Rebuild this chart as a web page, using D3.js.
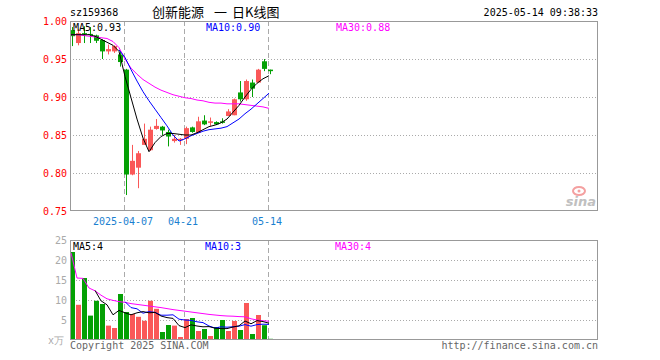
<!DOCTYPE html>
<html>
<head>
<meta charset="utf-8">
<script src="https://cdn.jsdelivr.net/npm/d3@7"></script>
<style>
  body { margin: 0; background: #fff; }
  svg text { font-family: "DejaVu Sans Mono", monospace; font-size: 10px; }
</style>
</head>
<body>
<svg id="chart" width="660" height="360"></svg>
<script>
// trading days shown on the chart
var dates = ['2025-03-24','2025-03-25','2025-03-26','2025-03-27','2025-03-28','2025-03-31',
  '2025-04-01','2025-04-02','2025-04-03','2025-04-07','2025-04-08','2025-04-09','2025-04-10',
  '2025-04-11','2025-04-14','2025-04-15','2025-04-16','2025-04-17','2025-04-18','2025-04-21',
  '2025-04-22','2025-04-23','2025-04-24','2025-04-25','2025-04-28','2025-04-29','2025-04-30',
  '2025-05-06','2025-05-07','2025-05-08','2025-05-09','2025-05-12','2025-05-13','2025-05-14'];

// OHLC
var opens  = [0.988,0.971,0.984,0.983,0.981,0.975,0.960,0.960,0.956,0.936,0.798,0.807,0.837,0.830,0.858,0.861,0.854,
              0.842,0.843,0.845,0.860,0.853,0.869,0.866,0.867,0.868,0.875,0.876,0.906,0.897,0.919,0.919,0.947,0.936];
var highs  = [0.992,0.989,0.993,0.992,0.982,0.976,0.969,0.968,0.960,0.937,0.837,0.829,0.865,0.861,0.871,0.862,0.857,
              0.850,0.846,0.861,0.861,0.874,0.876,0.873,0.868,0.872,0.884,0.898,0.921,0.923,0.923,0.937,0.950,0.936];
var lows   = [0.967,0.968,0.971,0.971,0.971,0.950,0.956,0.958,0.940,0.771,0.797,0.780,0.837,0.829,0.857,0.850,0.835,
              0.840,0.837,0.838,0.853,0.853,0.863,0.862,0.863,0.865,0.875,0.876,0.894,0.895,0.900,0.919,0.934,0.930];
var closes = [0.980,0.984,0.983,0.982,0.974,0.960,0.963,0.967,0.946,0.798,0.816,0.826,0.845,0.857,0.862,0.856,0.848,
              0.845,0.845,0.859,0.854,0.868,0.864,0.868,0.864,0.866,0.881,0.897,0.897,0.921,0.911,0.936,0.937,0.934];

// price moving averages (MA10 only drawn from day 8)
var ma5  = [0.982,0.982,0.982,0.982,0.980,0.976,0.972,0.968,0.960,0.927,0.899,0.871,0.846,0.828,0.840,0.848,0.852,
            0.852,0.851,0.850,0.850,0.853,0.857,0.861,0.863,0.866,0.871,0.880,0.889,0.900,0.910,0.918,0.924,0.928];
var ma10 = [null,null,null,null,null,null,null,null,0.962,0.952,0.936,0.921,0.907,0.895,0.884,0.873,0.862,
            0.850,0.842,0.845,0.849,0.852,0.855,0.857,0.858,0.859,0.861,0.866,0.871,0.878,0.884,0.891,0.898,0.905];
var ma30 = [0.982,0.982,0.981,0.980,0.979,0.978,0.977,0.973,0.965,0.950,0.938,0.930,0.923,0.918,0.913,0.909,0.906,
            0.903,0.901,0.899,0.898,0.896,0.895,0.893,0.892,0.892,0.891,0.891,0.891,0.890,0.889,0.888,0.887,0.885];

// volume (x万) and its averages
var volumes = [22.0,8.8,15.5,6.1,9.8,9.0,3.6,3.0,11.5,7.0,6.5,5.8,4.8,9.8,7.8,2.0,3.75,
               3.6,0.75,5.25,5.5,2.25,2.75,1.0,3.25,5.0,2.25,4.75,2.5,9.25,1.5,6.25,3.7,0.3];
var volMa5  = [null,null,null,null,12.4,9.8,8.8,6.3,7.4,6.8,6.3,6.8,7.1,6.8,6.9,6.0,5.6,
               5.4,3.6,3.1,3.8,3.5,3.3,3.35,2.95,2.85,2.85,3.25,3.55,4.75,4.05,4.85,4.6,4.2];
var volMa10 = [null,null,null,null,null,null,null,null,null,9.6,8.1,7.8,6.7,7.1,6.9,6.2,6.2,
               6.3,5.2,5.0,4.9,4.55,4.35,3.5,3.0,3.3,3.2,3.3,3.45,3.85,3.45,3.85,3.95,3.9];
var volMa30 = [21.8,15.5,15.4,13.0,12.3,11.2,10.3,9.9,9.6,9.4,9.1,8.9,8.7,8.5,8.3,8.1,7.85,
               7.6,7.4,7.2,7.0,6.8,6.6,6.4,6.25,6.1,6.0,5.95,5.85,5.8,5.3,5.0,4.8,4.7];

var priceTicks = [0.75,0.80,0.85,0.90,0.95,1.00];
var volTicks = [5,10,15,20,25];
var tickDates = ['2025-04-07','2025-04-21','2025-05-14'];
var tickLabels = ['2025-04-07','04-21','05-14'];

var RED = '#fa5858', GREEN = '#04a004', GRID = '#aaa', BORDER = '#999';

var svg = d3.select('#chart');
var x = d3.scaleLinear().domain([0, 88]).range([70, 598]);
var yPrice = d3.scaleLinear().domain([0.75, 1.00]).range([211, 21]);
var yVol = d3.scaleLinear().domain([0, 25]).range([340, 240]);

var idx = d3.range(dates.length);
function upDay(i) { return closes[i] >= opens[i]; }

// header - title pieces placed separately, the gaps are wide in the original
svg.append('text').attr('x', 70).attr('y', 16).text('sz159368');
var titleParts = [['创新能源', 152], ['一', 214], ['日K线图', 232]];
svg.append('g').selectAll('text').data(titleParts).enter().append('text')
  .attr('x', function(d) { return d[1]; }).attr('y', 17)
  .style('font-family', '"Noto Sans CJK SC"').style('font-size', '13px')
  .text(function(d) { return d[0]; });
svg.append('text').attr('x', 598).attr('y', 16).attr('text-anchor', 'end').text('2025-05-14 09:38:33');

// grids for both panels
function drawGrid(yScale, vals, top, bottom) {
  svg.append('g').selectAll('line').data(vals).enter().append('line')
    .attr('x1', 70).attr('x2', 598)
    .attr('y1', function(d) { return Math.round(yScale(d)) + 0.5; })
    .attr('y2', function(d) { return Math.round(yScale(d)) + 0.5; })
    .attr('stroke', GRID).attr('stroke-dasharray', '1,2');
  svg.append('g').selectAll('line').data(tickDates).enter().append('line')
    .attr('x1', function(d) { return x(dates.indexOf(d)) + 0.5; })
    .attr('x2', function(d) { return x(dates.indexOf(d)) + 0.5; })
    .attr('y1', top).attr('y2', bottom)
    .attr('stroke', GRID).attr('stroke-dasharray', '5,3');
}
drawGrid(yPrice, [0.80, 0.85, 0.90, 0.95], 21, 211);
drawGrid(yVol, [5, 10, 15, 20], 240, 340);

// axes (labels only)
var pAxis = svg.append('g').attr('transform', 'translate(70,0)')
  .call(d3.axisLeft(yPrice).tickValues(priceTicks).tickFormat(d3.format('.2f')).tickSize(0).tickPadding(3));
pAxis.select('.domain').remove();
pAxis.selectAll('text').attr('fill', '#f00').style('font-size', '10px').style('font-family', '"DejaVu Sans Mono"');

var vAxis = svg.append('g').attr('transform', 'translate(70,0)')
  .call(d3.axisLeft(yVol).tickValues(volTicks).tickSize(0).tickPadding(3));
vAxis.select('.domain').remove();
vAxis.selectAll('text').attr('fill', '#aaa').style('font-size', '10px').style('font-family', '"DejaVu Sans Mono"');
svg.append('text').attr('x', 64).attr('y', 344).attr('text-anchor', 'end').attr('fill', '#aaa').text('x万');

// date labels under the price panel
svg.append('g').selectAll('text').data(tickDates).enter().append('text')
  .attr('x', function(d) { return x(dates.indexOf(d)) - 1; })
  .attr('y', 225).attr('text-anchor', 'middle').attr('fill', '#1a7fd0')
  .text(function(d, i) { return tickLabels[i]; });

// candles
var candles = svg.append('g');
candles.selectAll('line').data(idx).enter().append('line')
  .attr('x1', function(i) { return x(i) + 2.5; })
  .attr('x2', function(i) { return x(i) + 2.5; })
  .attr('y1', function(i) { return yPrice(highs[i]); })
  .attr('y2', function(i) { return yPrice(lows[i]); })
  .attr('stroke', function(i) { return upDay(i) ? RED : GREEN; });
candles.selectAll('rect').data(idx).enter().append('rect')
  .attr('x', function(i) { return x(i); })
  .attr('width', 5)
  .attr('y', function(i) { return yPrice(Math.max(opens[i], closes[i])); })
  .attr('height', function(i) { return Math.max(1, Math.abs(yPrice(opens[i]) - yPrice(closes[i]))); })
  .attr('fill', function(i) { return upDay(i) ? RED : GREEN; });

// volume bars
svg.append('g').selectAll('rect').data(idx).enter().append('rect')
  .attr('x', function(i) { return x(i); })
  .attr('width', 5)
  .attr('y', function(i) { return yVol(volumes[i]); })
  .attr('height', function(i) { return 340 - yVol(volumes[i]); })
  .attr('fill', function(i) { return upDay(i) ? RED : GREEN; });

// moving average lines
function maLine(arr, yScale, color) {
  var line = d3.line()
    .defined(function(d) { return d != null; })
    .x(function(d, i) { return x(i) + 1; })
    .y(function(d) { return yScale(d); });
  svg.append('path').datum(arr).attr('d', line)
    .attr('fill', 'none').attr('stroke', color).attr('stroke-width', 1);
}
maLine(ma30, yPrice, '#f0f');
maLine(ma10, yPrice, '#00f');
maLine(ma5, yPrice, '#000');
maLine(volMa30, yVol, '#f0f');
maLine(volMa10, yVol, '#00f');
maLine(volMa5, yVol, '#000');

// panel borders
svg.append('rect').attr('x', 70.5).attr('y', 21.5).attr('width', 527).attr('height', 189)
  .attr('fill', 'none').attr('stroke', BORDER);
svg.append('rect').attr('x', 70.5).attr('y', 240.5).attr('width', 527).attr('height', 99)
  .attr('fill', 'none').attr('stroke', BORDER);

// MA legends
svg.append('text').attr('x', 73).attr('y', 31).attr('fill', '#000').text('MA5:0.93');
svg.append('text').attr('x', 206).attr('y', 31).attr('fill', '#00f').text('MA10:0.90');
svg.append('text').attr('x', 336).attr('y', 31).attr('fill', '#f0f').text('MA30:0.88');
svg.append('text').attr('x', 73).attr('y', 250).attr('fill', '#000').text('MA5:4');
svg.append('text').attr('x', 205).attr('y', 250).attr('fill', '#00f').text('MA10:3');
svg.append('text').attr('x', 335).attr('y', 250).attr('fill', '#f0f').text('MA30:4');

// footer
svg.append('text').attr('x', 70).attr('y', 349).attr('fill', '#666').text('Copyright 2025 SINA.COM');
svg.append('text').attr('x', 598).attr('y', 349).attr('text-anchor', 'end').attr('fill', '#666')
  .text('http://finance.sina.com.cn');

// sina watermark
var logo = svg.append('g');
logo.append('ellipse').attr('cx', 579).attr('cy', 191).attr('rx', 6).attr('ry', 4)
  .attr('fill', 'none').attr('stroke', '#f4a0a0').attr('stroke-width', 2);
logo.append('circle').attr('cx', 579).attr('cy', 191).attr('r', 1.5).attr('fill', '#f4a0a0');
logo.append('text').attr('x', 596).attr('y', 206).attr('text-anchor', 'end')
  .style('font-family', '"DejaVu Sans"').style('font-size', '13px').style('font-style', 'italic')
  .style('font-weight', 'bold').attr('fill', '#c0c0c0').text('sina');
</script>
</body>
</html>
